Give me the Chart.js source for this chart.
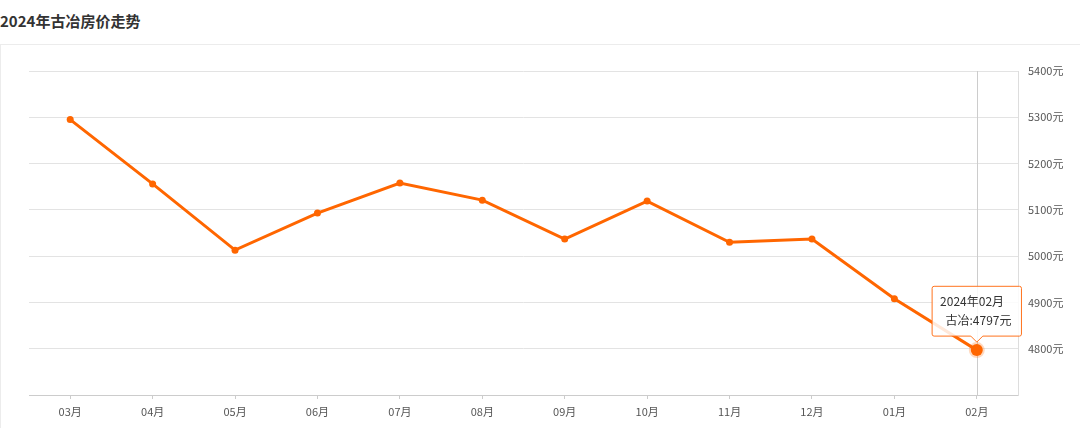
<!DOCTYPE html>
<html>
<head>
<meta charset="utf-8">
<script src="https://cdn.jsdelivr.net/npm/chart.js@4/dist/chart.umd.min.js"></script>
<style>
  body { margin: 0; background: #fff; font-family: "Noto Sans CJK SC", sans-serif; }
  .title { height: 44px; line-height: 42px; font-size: 15px; font-weight: bold; color: #333; padding-left: 0; }
  .panel { position: absolute; top: 44px; left: 0; width: 1079px; height: 384px; border-top: 1px solid #ececec; border-left: 1px solid #ececec; }
  .panel canvas { display: block; }
</style>
</head>
<body>
<div class="title">2024年古冶房价走势</div>
<div class="panel"><canvas id="chart1" width="1079" height="383"></canvas></div>
<script>
var months = ["03月", "04月", "05月", "06月", "07月", "08月", "09月", "10月", "11月", "12月", "01月", "02月"];
var fullMonths = ["2023年03月", "2023年04月", "2023年05月", "2023年06月", "2023年07月", "2023年08月", "2023年09月", "2023年10月", "2023年11月", "2023年12月", "2024年01月", "2024年02月"];
var prices = [5295, 5156, 5013, 5093, 5158, 5121, 5037, 5119, 5030, 5037, 4908, 4797];
var seriesName = "古冶";
var activeIndex = 11;

var orange = 'rgb(255, 102, 0)';

// vertical guide line at the active month
var crossLine = {
    id: 'crossLine',
    beforeDatasetsDraw: function (chart) {
        var x = chart.scales.x.getPixelForValue(activeIndex);
        var a = chart.chartArea;
        var c = chart.ctx;
        c.save();
        c.strokeStyle = '#cccccc';
        c.lineWidth = 1;
        c.beginPath();
        c.moveTo(Math.round(x) + 0.5, a.top);
        c.lineTo(Math.round(x) + 0.5, a.bottom);
        c.stroke();
        c.restore();
    }
};

var ctx = document.getElementById('chart1').getContext('2d');
var chart = new Chart(ctx, {
    type: 'line',
    data: {
        labels: months,
        datasets: [{
            label: seriesName,
            data: prices,
            borderColor: orange,
            backgroundColor: orange,
            borderWidth: 3,
            tension: 0,
            pointRadius: function (c) { return c.dataIndex === activeIndex ? 6 : 3.5; },
            pointBackgroundColor: orange,
            pointBorderColor: function (c) { return c.dataIndex === activeIndex ? 'rgba(255,102,0,0.25)' : orange; },
            pointBorderWidth: function (c) { return c.dataIndex === activeIndex ? 4 : 0; },
            pointHoverRadius: 6,
            pointHoverBorderWidth: 4,
            pointHoverBorderColor: 'rgba(255,102,0,0.25)'
        }]
    },
    options: {
        responsive: false,
        animation: false,
        events: [],
        layout: { padding: { left: 28, top: 26, right: 0, bottom: 0 } },
        plugins: {
            legend: { display: false },
            tooltip: {
                enabled: true,
                yAlign: 'bottom',
                xAlign: 'center',
                backgroundColor: 'rgba(255,255,255,0.85)',
                borderColor: 'rgb(255, 115, 30)',
                borderWidth: 1,
                cornerRadius: 2,
                caretSize: 6,
                caretPadding: 8,
                padding: { left: 8, right: 10, top: 8, bottom: 8 },
                displayColors: false,
                titleColor: '#333',
                bodyColor: '#333',
                titleFont: { family: 'Noto Sans CJK SC', size: 12, weight: 'normal' },
                bodyFont: { family: 'Noto Sans CJK SC', size: 12 },
                titleMarginBottom: 5,
                titleAlign: 'left',
                bodyAlign: 'right',
                callbacks: {
                    title: function (items) { return fullMonths[items[0].dataIndex]; },
                    label: function (item) { return '  ' + seriesName + ':' + item.raw + '元'; }
                }
            }
        },
        scales: {
            x: {
                offset: true,
                grid: { display: true, drawOnChartArea: false, offset: false, tickLength: 4, color: '#cccccc' },
                border: { color: '#cccccc', width: 1 },
                ticks: { color: '#555', font: { family: 'Noto Sans CJK SC', size: 11 }, padding: 6, maxRotation: 0 },
                afterFit: function (s) { s.height = 33; }
            },
            y: {
                position: 'right',
                min: 4700,
                max: 5400,
                grid: { color: '#e3e3e3', drawTicks: false },
                border: { color: '#dddddd' },
                ticks: {
                    stepSize: 100,
                    padding: 10,
                    color: '#555',
                    font: { family: 'Noto Sans CJK SC', size: 11 },
                    callback: function (v) { return v === 4700 ? '' : v + '元'; }
                },
                afterFit: function (s) { s.width = 62; }
            }
        }
    },
    plugins: [crossLine]
});

var el = chart.getDatasetMeta(0).data[activeIndex];
chart.tooltip.setActiveElements([{ datasetIndex: 0, index: activeIndex }], { x: el.x, y: el.y });
chart.update();
</script>
</body>
</html>
